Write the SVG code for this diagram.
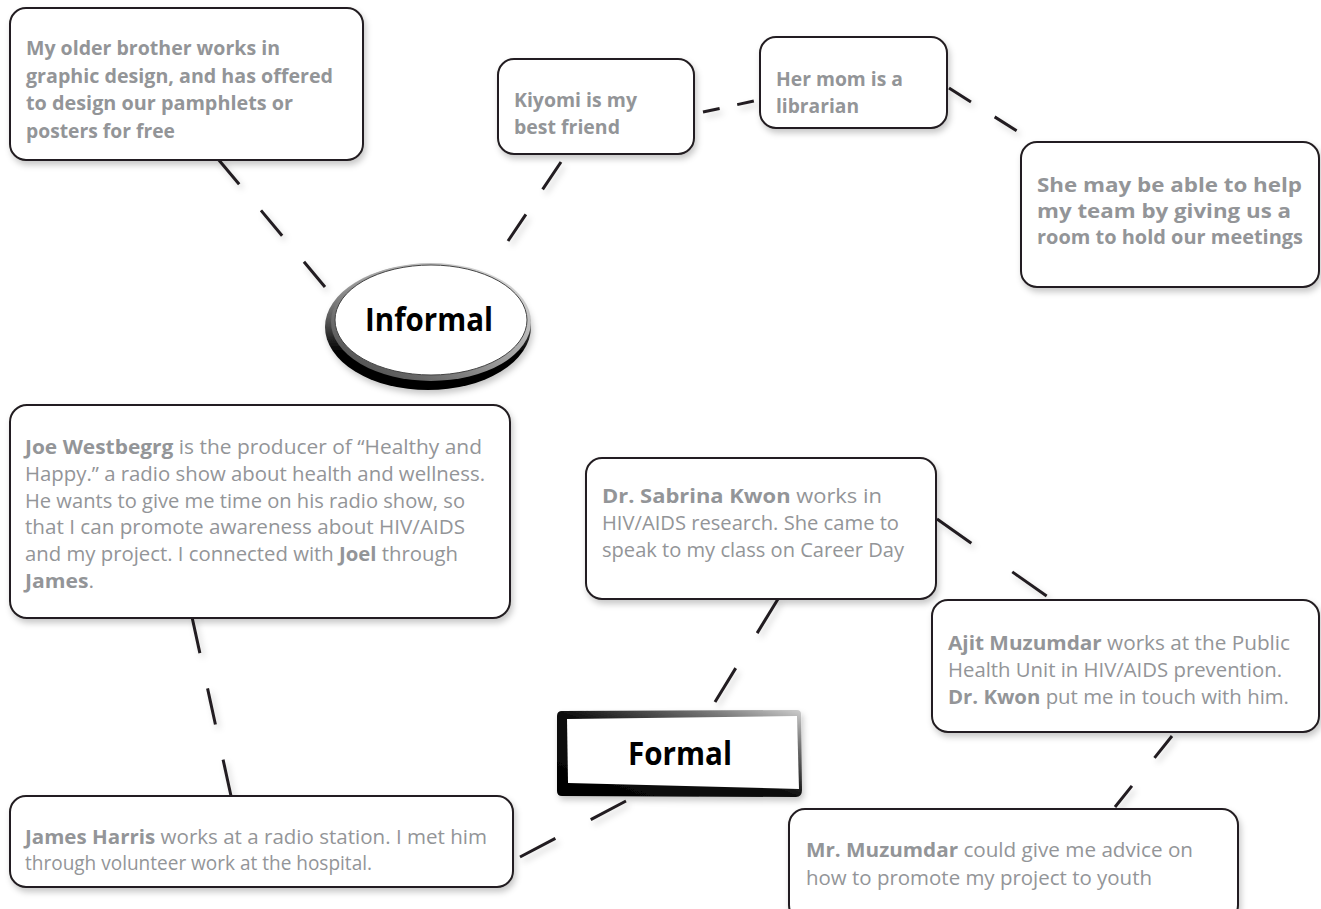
<svg xmlns="http://www.w3.org/2000/svg" width="1321" height="909" viewBox="0 0 1321 909">
<defs>
<filter id="sh" x="-10%" y="-10%" width="130%" height="140%">
<feDropShadow dx="2" dy="4" stdDeviation="3" flood-color="#000" flood-opacity="0.22"/>
</filter>
<filter id="lsh" x="-20%" y="-20%" width="160%" height="160%">
<feDropShadow dx="3" dy="4" stdDeviation="3" flood-color="#000" flood-opacity="0.18"/>
</filter>
<linearGradient id="ringOuter" x1="0" y1="0" x2="0" y2="1">
<stop offset="0" stop-color="#c8c8c8"/>
<stop offset="0.45" stop-color="#555"/>
<stop offset="0.7" stop-color="#000"/>
<stop offset="1" stop-color="#000"/>
</linearGradient>
<linearGradient id="ringInner" x1="1" y1="0" x2="0" y2="1">
<stop offset="0" stop-color="#e6e6e6"/>
<stop offset="0.5" stop-color="#9a9a9a"/>
<stop offset="1" stop-color="#3a3a3a"/>
</linearGradient>
<linearGradient id="frameGrad" x1="0" y1="1" x2="1" y2="0">
<stop offset="0" stop-color="#000"/>
<stop offset="0.5" stop-color="#111"/>
<stop offset="0.8" stop-color="#777"/>
<stop offset="1" stop-color="#cfcfcf"/>
</linearGradient>
</defs>
<style>
.box{fill:#fff;stroke:#231f20;stroke-width:2}
.t{font-family:"Open Sans","Liberation Sans",sans-serif;font-size:20px;fill:#939598}
.tb{font-family:"Open Sans","Liberation Sans",sans-serif;font-size:20px;fill:#939598;font-weight:bold}
.b{font-weight:bold}
.hub{font-family:"Open Sans","Liberation Sans",sans-serif;font-weight:bold;fill:#000}
.c{stroke:#231f20;stroke-width:3;fill:none}
</style>
<rect width="1321" height="909" fill="#fff"/>

<g id="connectors" filter="url(#lsh)">
<line class="c" x1="218" y1="159" x2="325" y2="287" stroke-dasharray="33 34"/>
<line class="c" x1="561" y1="162" x2="508" y2="241" stroke-dasharray="33 30"/>
<line class="c" x1="703" y1="112" x2="754" y2="101" stroke-dasharray="17 18"/>
<line class="c" x1="949" y1="88" x2="1017" y2="131" stroke-dasharray="26 28"/>
<line class="c" x1="192" y1="617" x2="231" y2="796" stroke-dasharray="37 36"/>
<line class="c" x1="778" y1="599" x2="715" y2="702" stroke-dasharray="40 41"/>
<line class="c" x1="937" y1="519" x2="1048" y2="597" stroke-dasharray="42 50"/>
<line class="c" x1="1172" y1="736" x2="1115" y2="807" stroke-dasharray="28 36"/>
<line class="c" x1="520" y1="857" x2="626" y2="801" stroke-dasharray="40 40"/>
</g>

<g id="informal">
<ellipse cx="428" cy="327" rx="103" ry="63" fill="url(#ringOuter)" filter="url(#sh)"/>
<ellipse cx="431" cy="322" rx="100" ry="59" fill="url(#ringInner)"/>
<ellipse cx="431" cy="320" rx="96" ry="55" fill="#fff" stroke="#444" stroke-width="1"/>
<text class="hub" x="429" y="331" font-size="33" text-anchor="middle" textLength="128" lengthAdjust="spacingAndGlyphs">Informal</text>
</g>

<g id="formal">
<path d="M557,716 Q557,711 562,711 L797,710 Q801,710 801,714 L802,790 Q802,797 796,797 L562,796 Q557,796 557,791 Z" fill="url(#frameGrad)" filter="url(#sh)"/>
<path d="M567,719 L797,716 L799,789 L568,783 Z" fill="#fff"/>
<text class="hub" x="680" y="765" font-size="32" text-anchor="middle" textLength="104" lengthAdjust="spacingAndGlyphs">Formal</text>
</g>

<g id="brother">
<rect class="box" x="10" y="8" width="353" height="152" rx="16" filter="url(#sh)"/>
<text class="tb" x="26" y="55" textLength="254" lengthAdjust="spacingAndGlyphs">My older brother works in</text>
<text class="tb" x="26" y="83" textLength="307" lengthAdjust="spacingAndGlyphs">graphic design, and has offered</text>
<text class="tb" x="26" y="110" textLength="267" lengthAdjust="spacingAndGlyphs">to design our pamphlets or</text>
<text class="tb" x="26" y="138" textLength="149" lengthAdjust="spacingAndGlyphs">posters for free</text>
</g>

<g id="kiyomi">
<rect class="box" x="498" y="59" width="196" height="95" rx="16" filter="url(#sh)"/>
<text class="tb" x="514" y="107" textLength="123" lengthAdjust="spacingAndGlyphs">Kiyomi is my</text>
<text class="tb" x="514" y="134" textLength="106" lengthAdjust="spacingAndGlyphs">best friend</text>
</g>

<g id="mom">
<rect class="box" x="760" y="37" width="187" height="91" rx="16" filter="url(#sh)"/>
<text class="tb" x="776" y="86" textLength="127" lengthAdjust="spacingAndGlyphs">Her mom is a</text>
<text class="tb" x="776" y="113" textLength="83" lengthAdjust="spacingAndGlyphs">librarian</text>
</g>

<g id="room">
<rect class="box" x="1021" y="142" width="298" height="145" rx="16" filter="url(#sh)"/>
<text class="tb" x="1037" y="192" textLength="265" lengthAdjust="spacingAndGlyphs">She may be able to help</text>
<text class="tb" x="1037" y="218" textLength="254" lengthAdjust="spacingAndGlyphs">my team by giving us a</text>
<text class="tb" x="1037" y="244" textLength="266" lengthAdjust="spacingAndGlyphs">room to hold our meetings</text>
</g>

<g id="joe">
<rect class="box" x="10" y="405" width="500" height="213" rx="17" filter="url(#sh)"/>
<text class="t" x="25" y="454" textLength="457" lengthAdjust="spacingAndGlyphs"><tspan class="b">Joe Westbegrg</tspan> is the producer of “Healthy and</text>
<text class="t" x="25" y="481" textLength="460" lengthAdjust="spacingAndGlyphs">Happy.” a radio show about health and wellness.</text>
<text class="t" x="25" y="508" textLength="440" lengthAdjust="spacingAndGlyphs">He wants to give me time on his radio show, so</text>
<text class="t" x="25" y="534" textLength="440" lengthAdjust="spacingAndGlyphs">that I can promote awareness about HIV/AIDS</text>
<text class="t" x="25" y="561" textLength="433" lengthAdjust="spacingAndGlyphs">and my project. I connected with <tspan class="b">Joel</tspan> through</text>
<text class="t" x="25" y="588" textLength="69" lengthAdjust="spacingAndGlyphs"><tspan class="b">James</tspan>.</text>
</g>

<g id="sabrina">
<rect class="box" x="586" y="458" width="350" height="141" rx="16" filter="url(#sh)"/>
<text class="t" x="602" y="503" textLength="280" lengthAdjust="spacingAndGlyphs"><tspan class="b">Dr. Sabrina Kwon</tspan> works in</text>
<text class="t" x="602" y="530" textLength="297" lengthAdjust="spacingAndGlyphs">HIV/AIDS research. She came to</text>
<text class="t" x="602" y="557" textLength="302" lengthAdjust="spacingAndGlyphs">speak to my class on Career Day</text>
</g>

<g id="ajit">
<rect class="box" x="932" y="600" width="387" height="132" rx="16" filter="url(#sh)"/>
<text class="t" x="948" y="650" textLength="342" lengthAdjust="spacingAndGlyphs"><tspan class="b">Ajit Muzumdar</tspan> works at the Public</text>
<text class="t" x="948" y="677" textLength="334" lengthAdjust="spacingAndGlyphs">Health Unit in HIV/AIDS prevention.</text>
<text class="t" x="948" y="704" textLength="341" lengthAdjust="spacingAndGlyphs"><tspan class="b">Dr. Kwon</tspan> put me in touch with him.</text>
</g>

<g id="james">
<rect class="box" x="10" y="796" width="503" height="91" rx="16" filter="url(#sh)"/>
<text class="t" x="25" y="844" textLength="462" lengthAdjust="spacingAndGlyphs"><tspan class="b">James Harris</tspan> works at a radio station. I met him</text>
<text class="t" x="25" y="870" textLength="347" lengthAdjust="spacingAndGlyphs">through volunteer work at the hospital.</text>
</g>

<g id="muzumdar">
<rect class="box" x="789" y="809" width="449" height="112" rx="16" filter="url(#sh)"/>
<text class="t" x="806" y="857" textLength="387" lengthAdjust="spacingAndGlyphs"><tspan class="b">Mr. Muzumdar</tspan> could give me advice on</text>
<text class="t" x="806" y="885" textLength="346" lengthAdjust="spacingAndGlyphs">how to promote my project to youth</text>
</g>
</svg>
